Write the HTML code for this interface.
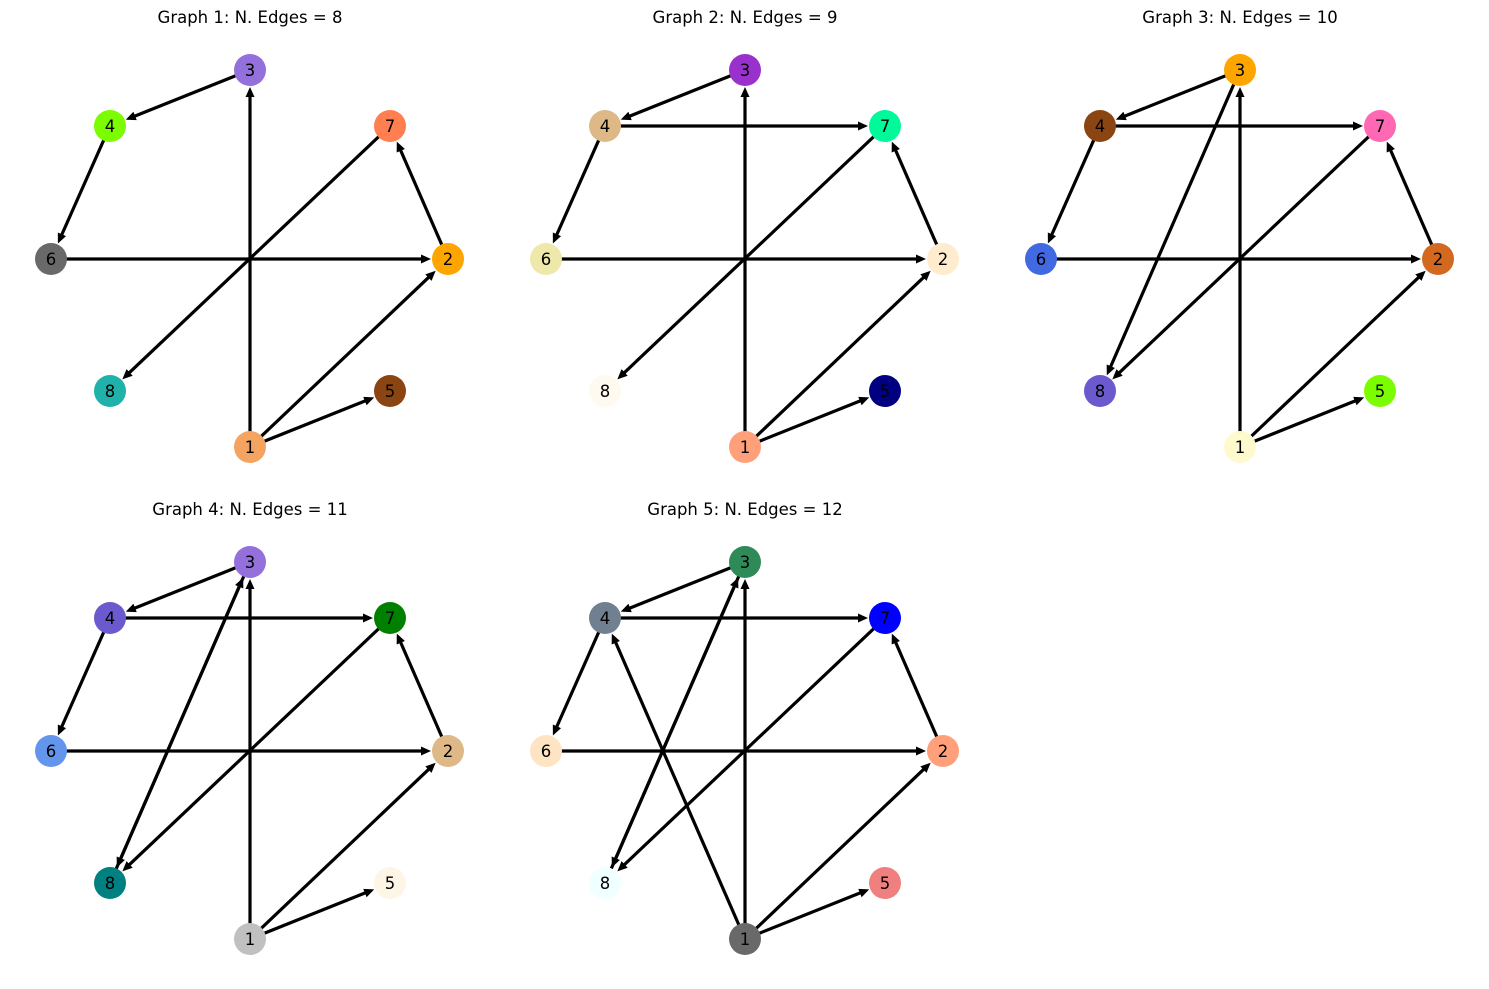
<!DOCTYPE html>
<html><head><meta charset="utf-8">
<style>
body{margin:0;background:#fff;}
svg{display:block;}
text{font-family:"DejaVu Sans","Liberation Sans",sans-serif;}
</style></head>
<body>
<svg id="chart" width="1489" height="989" viewBox="0 0 1489 989" xmlns="http://www.w3.org/2000/svg"></svg>
<script>
const nodeIds = ["1","2","3","4","5","6","7","8"];
const nodePos = {"1":[250,447],"2":[448,259],"3":[250,70],"4":[110,126],"5":[390,391],"6":[51,259],"7":[390,126],"8":[110,391]};
const panelOffsets = [[0,0],[495,0],[990,0],[0,492],[495,492]];
const titles = ["Graph 1: N. Edges = 8","Graph 2: N. Edges = 9","Graph 3: N. Edges = 10","Graph 4: N. Edges = 11","Graph 5: N. Edges = 12"];
const baseEdges = [["1","3"],["1","2"],["1","5"],["3","4"],["4","6"],["6","2"],["7","8"],["2","7"]];
const edges1 = baseEdges;
const edges2 = baseEdges.concat([["4","7"]]);
const edges3 = edges2.concat([["3","8"]]);
const edges4 = edges3.concat([["8","3"]]);
const edges5 = edges4.concat([["1","4"]]);
const allEdges = [edges1,edges2,edges3,edges4,edges5];
const colors1 = {"1":"#f4a460","2":"#ffa500","3":"#9370db","4":"#7cfc00","5":"#8b4513","6":"#696969","7":"#ff7f50","8":"#20b2aa"};
const colors2 = {"1":"#ffa07a","2":"#ffebcd","3":"#9932cc","4":"#deb887","5":"#000080","6":"#eee8aa","7":"#00fa9a","8":"#fffaf0"};
const colors3 = {"1":"#fffacd","2":"#d2691e","3":"#ffa500","4":"#8b4513","5":"#7cfc00","6":"#4169e1","7":"#ff69b4","8":"#6a5acd"};
const colors4 = {"1":"#c0c0c0","2":"#deb887","3":"#9370db","4":"#6a5acd","5":"#fdf5e6","6":"#6495ed","7":"#008000","8":"#008080"};
const colors5 = {"1":"#696969","2":"#ffa07a","3":"#2e8b57","4":"#708090","5":"#f08080","6":"#ffe4c4","7":"#0000ff","8":"#f0ffff"};
const allColors = [colors1,colors2,colors3,colors4,colors5];

const NS="http://www.w3.org/2000/svg";
const svg=document.getElementById('chart');
const R=16;
function mk(tag,attrs,parent){const e=document.createElementNS(NS,tag);for(const k in attrs)e.setAttribute(k,attrs[k]);parent.appendChild(e);return e;}
panelOffsets.forEach((off,pi)=>{
  const g=mk('g',{},svg);
  
  
  const t=mk('text',{x:off[0]+250,y:off[1]+23,'text-anchor':'middle','font-size':'16.5',fill:'#000'},g);
  t.textContent=titles[pi];
  
  
  const px=id=>nodePos[id][0]+off[0], py=id=>nodePos[id][1]+off[1];
  allEdges[pi].forEach(([a,b])=>{
    let x1=px(a),y1=py(a),x2=px(b),y2=py(b);
    const dx=x2-x1,dy=y2-y1,L=Math.hypot(dx,dy),ux=dx/L,uy=dy/L;
    const tx=x2-ux*(R+1),ty=y2-uy*(R+1);
    const hl=10,hw=4.5;
    const bx=tx-ux*hl,by=ty-uy*hl;
    const line=mk('line',{x1:x1,y1:y1,x2:bx+ux*2,y2:by+uy*2,stroke:'#000','stroke-width':3.2},g);
    
    
    const head=mk('polygon',{points:`${tx},${ty} ${bx-uy*hw},${by+ux*hw} ${bx+uy*hw},${by-ux*hw}`,fill:'#000'},g);
    
    
  });
  nodeIds.forEach(id=>{
    const c=mk('circle',{cx:px(id),cy:py(id),r:R,fill:allColors[pi][id]},g);
    
    
    const l=mk('text',{x:px(id),y:py(id)+6,'text-anchor':'middle','font-size':'16.5',fill:'#000'},g);
    l.textContent=id;
    
    
  });
});
</script>
</body></html>
